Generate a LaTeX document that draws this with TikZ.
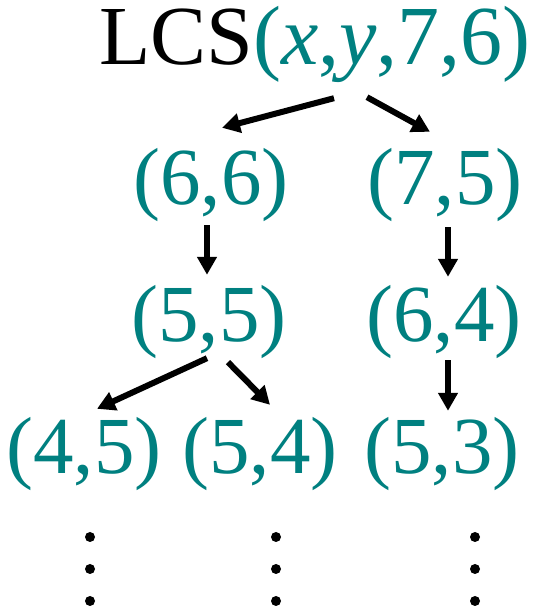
\documentclass[tikz,border=0pt]{standalone}
\usepackage{fontspec}
\setmainfont{Liberation Serif}
\usepackage{xcolor}
\usepackage{tikz}
\usetikzlibrary{arrows.meta, positioning}

\definecolor{lcsteal}{RGB}{0,128,128}

\begin{document}
\begin{tikzpicture}[
    x=1pt, y=1pt,
    pair/.style={inner sep=0pt, anchor=base, text height=58pt, text depth=0pt,
                 text=lcsteal, font=\fontsize{81pt}{90pt}\selectfont},
    arrow/.style={-{Triangle[length=18pt, width=19pt]}, line width=6pt}
]
    \useasboundingbox (0,0) rectangle (551,610);

    % Nodes
    \node[pair, text=black, font=\fontsize{84pt}{90pt}\selectfont] (lcs) at (315,545) {LCS\textcolor{lcsteal}{(\textit{x},\textit{y},7,6)}};
    \node[pair] (p66) at (211,405) {(6,6)};
    \node[pair] (p75) at (445,405) {(7,5)};
    \node[pair] (p55) at (209,268) {(5,5)};
    \node[pair] (p64) at (444,268) {(6,4)};
    \node[pair] (p45) at (84,136) {(4,5)};
    \node[pair] (p54) at (260,136) {(5,4)};
    \node[pair] (p53) at (442,136) {(5,3)};

    % Arrows
    \draw[arrow] ([xshift=19pt, yshift=-33pt]lcs.south) -- ([xshift=11pt, yshift=19pt]p66.north);
    \draw[arrow] ([xshift=52pt, yshift=-32pt]lcs.south) -- ([xshift=-15pt, yshift=15pt]p75.north);
    \draw[arrow] ([xshift=-4pt, yshift=-20pt]p66.south) -- ([xshift=-2pt, yshift=9pt]p55.north);
    \draw[arrow] ([xshift=3pt, yshift=-22pt]p75.south) -- ([xshift=4pt, yshift=7pt]p64.north);
    \draw[arrow] ([xshift=-2pt, yshift=-16pt]p55.south) -- ([xshift=13pt, yshift=7pt]p45.north);
    \draw[arrow] ([xshift=19pt, yshift=-20pt]p55.south) -- ([xshift=10pt, yshift=11pt]p54.north);
    \draw[arrow] ([xshift=4pt, yshift=-18pt]p64.south) -- ([xshift=6pt, yshift=5pt]p53.north);

    % Dots
    \foreach \x in {90,276,475}
        \foreach \y in {73,41,9}
            \fill (\x,\y) circle (5pt);
\end{tikzpicture}
\end{document}
